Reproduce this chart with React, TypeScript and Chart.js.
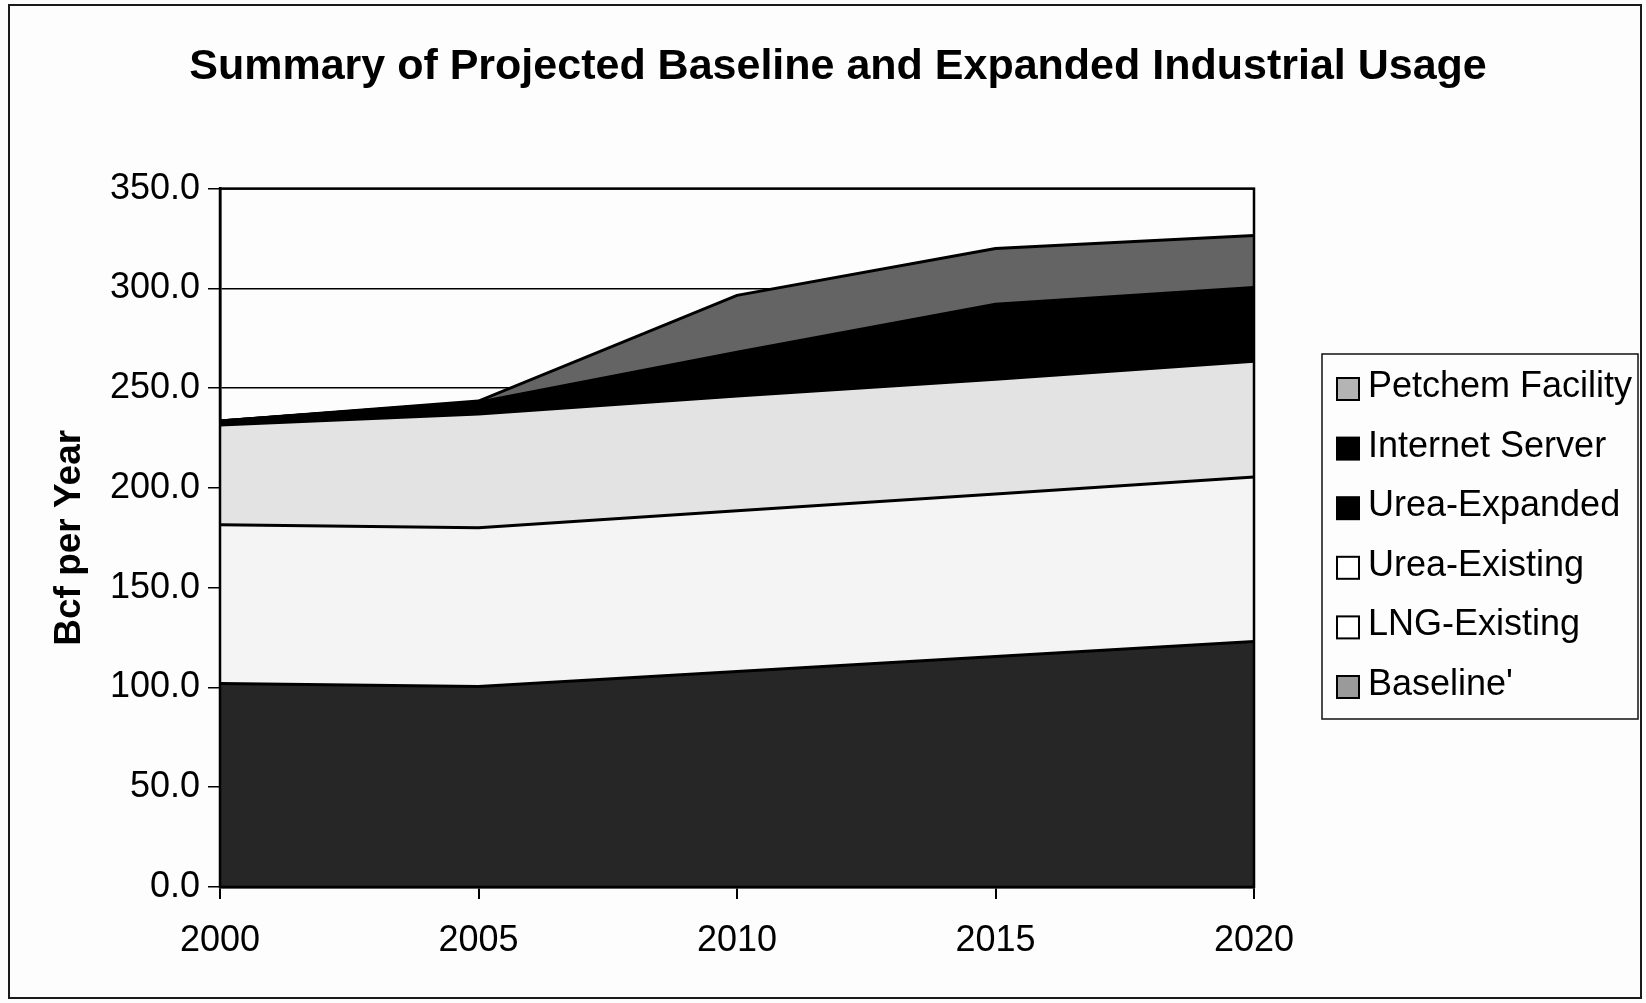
import React, { useEffect, useRef } from 'react';
import { Chart, registerables } from 'chart.js';

Chart.register(...registerables);

const FONT = "'Liberation Sans', Arial, Helvetica, sans-serif";

const TITLE = 'Summary of Projected Baseline and Expanded Industrial Usage';
const Y_TITLE = 'Bcf per Year';
const YEARS = ['2000', '2005', '2010', '2015', '2020'];
const Y_MIN = 0;
const Y_MAX = 350;
const Y_STEP = 50;

// stacked from the bottom up
const BASELINE = [102, 100.5, 108, 115.5, 123];
const LNG_EXISTING = [79.5, 79.5, 80.5, 81.5, 82.5];
const UREA_EXISTING = [50, 57, 57.5, 57.5, 58];
const UREA_EXPANDED = [2, 6, 15, 25, 25];
const INTERNET_SERVER = [0, 0, 7, 12.5, 12];
const PETCHEM = [0, 0.5, 28.5, 28, 26];

const SERIES_NAMES = ["Baseline'", 'LNG-Existing', 'Urea-Existing', 'Urea-Expanded', 'Internet Server', 'Petchem Facility'];
const SERIES_DATA = [BASELINE, LNG_EXISTING, UREA_EXISTING, UREA_EXPANDED, INTERNET_SERVER, PETCHEM];
const SERIES_FILL = ['#262626', '#f4f4f4', '#e3e3e3', '#000000', '#000000', '#646464'];
const SWATCH_FILL = ['#9a9a9a', '#ffffff', '#ffffff', '#000000', '#000000', '#b4b4b4'];

export default function App() {
  const ref = useRef<HTMLCanvasElement>(null);

  useEffect(() => {
    const canvas = ref.current;
    if (!canvas) return;

    const framePlugin = {
      id: 'frame',
      beforeDraw(chart: any) {
        const c = chart.ctx;
        c.save();
        c.fillStyle = '#fdfdfd';
        c.fillRect(0, 0, chart.width, chart.height);
        c.strokeStyle = '#1a1a1a';
        c.lineWidth = 2;
        c.strokeRect(9, 5, 1632, 993);
        c.restore();
      },
    };

    const plotBorderPlugin = {
      id: 'plotBorder',
      afterDatasetsDraw(chart: any) {
        const { left, top, right, bottom } = chart.chartArea;
        const c = chart.ctx;
        c.save();
        c.strokeStyle = '#000';
        c.lineWidth = 2.5;
        c.strokeRect(left, top, right - left, bottom - top);
        c.restore();
      },
    };

    const boxLegendPlugin = {
      id: 'boxLegend',
      afterDraw(chart: any) {
        const c = chart.ctx;
        const boxL = 1322, boxT = 354, boxR = 1638, boxB = 719;
        c.save();
        c.strokeStyle = '#111';
        c.lineWidth = 1.5;
        c.strokeRect(boxL, boxT, boxR - boxL, boxB - boxT);
        c.font = `36px ${FONT}`;
        c.textBaseline = 'middle';
        c.textAlign = 'left';
        const ds = chart.data.datasets;
        const n = ds.length;
        for (let k = 0; k < n; k++) {
          const i = n - 1 - k;
          const cy = 387 + k * 59.6;
          const sz = 22;
          c.fillStyle = SWATCH_FILL[i];
          c.fillRect(1337, cy - sz / 2 + 2, sz, sz);
          c.strokeStyle = '#000';
          c.lineWidth = 2;
          c.strokeRect(1337, cy - sz / 2 + 2, sz, sz);
          c.fillStyle = '#000';
          c.fillText(ds[i].label, 1368, cy);
        }
        c.restore();
      },
    };

    const chart = new Chart(canvas, {
      type: 'line',
      data: {
        labels: YEARS,
        datasets: SERIES_NAMES.map((name, i) => ({
          label: name,
          data: SERIES_DATA[i],
          backgroundColor: SERIES_FILL[i],
          borderColor: '#000',
          borderWidth: 3,
          fill: i === 0 ? 'origin' : '-1',
          pointRadius: 0,
          pointHoverRadius: 0,
          tension: 0,
        })),
      },
      options: {
        responsive: false,
        animation: false,
        devicePixelRatio: 1,
        layout: { padding: { left: 30, top: 0, right: 0, bottom: 0 } },
        plugins: {
          legend: { display: false },
          tooltip: { enabled: false },
          filler: { drawTime: 'beforeDatasetsDraw' },
          title: {
            display: true,
            text: TITLE,
            color: '#000',
            font: { family: FONT, size: 43, weight: 'bold' },
            padding: { top: 41, bottom: 96 },
          },
        },
        scales: {
          x: {
            type: 'category',
            offset: false,
            grid: { drawOnChartArea: false, drawTicks: true, tickLength: 12, color: '#000', lineWidth: 2 },
            border: { display: true, color: '#000', width: 2.5 },
            ticks: {
              color: '#000',
              font: { family: FONT, size: 36 },
              padding: 20,
              maxRotation: 0,
              autoSkip: false,
            },
            afterFit(s: any) { s.height = 116; },
          },
          y: {
            stacked: true,
            min: Y_MIN,
            max: Y_MAX,
            grid: { drawOnChartArea: true, drawTicks: true, tickLength: 12, color: '#000', lineWidth: 1.5 },
            border: { display: true, color: '#000', width: 2.5 },
            ticks: {
              stepSize: Y_STEP,
              color: '#000',
              font: { family: FONT, size: 36 },
              padding: 8,
              callback: (v: any) => Number(v).toFixed(1),
            },
            title: {
              display: true,
              text: Y_TITLE,
              color: '#000',
              font: { family: FONT, size: 37, weight: 'bold' },
              padding: { top: 18, bottom: 0 },
            },
            afterFit(s: any) { s.width = 190; },
          },
          y2: {
            position: 'right',
            display: true,
            grid: { drawOnChartArea: false, drawTicks: false },
            border: { display: false },
            ticks: { display: false },
            afterFit(s: any) { s.width = 392; },
          },
        },
      },
      plugins: [framePlugin, plotBorderPlugin, boxLegendPlugin],
    } as any);

    return () => chart.destroy();
  }, []);

  return (
    <div style={{ position: 'absolute', left: 0, top: 0, width: 1646, height: 1003 }}>
      <canvas ref={ref} width={1646} height={1003} style={{ display: 'block', width: 1646, height: 1003 }} />
    </div>
  );
}
